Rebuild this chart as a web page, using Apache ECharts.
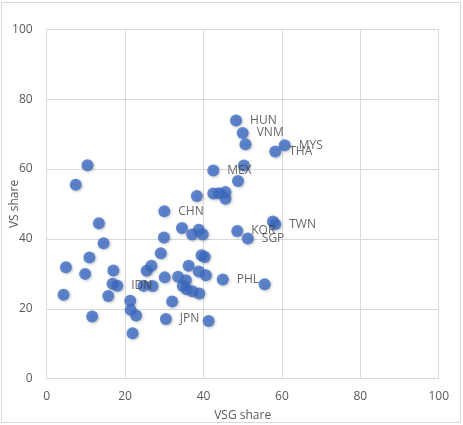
<!DOCTYPE html>
<html>
<head>
<meta charset="utf-8">
<script src="https://cdn.jsdelivr.net/npm/echarts@6/dist/echarts.min.js"></script>
<style>
  html, body { margin: 0; padding: 0; background: #fff; }
  #chart { width: 463px; height: 425px; }
</style>
</head>
<body>
<div id="chart"></div>
<script>
// VSG share (x) and VS share (y), one entry per country
const vsgShare = [
  48.3, 50.0, 50.7, 60.7, 58.3, 50.3, 42.5, 48.8, 10.4, 7.4,
  38.3, 42.5, 44.0, 45.6, 45.6, 30.0, 13.3, 14.5, 34.5, 37.1,
  38.8, 39.8, 29.9, 48.6, 51.3, 57.7, 58.3, 29.1, 39.5, 40.3,
  10.9, 4.9, 9.8, 17.0, 25.5, 26.7, 36.2, 38.8, 40.6, 30.1,
  33.5, 35.5, 44.9, 55.6, 16.8, 18.0, 24.7, 27.0, 34.7, 35.7,
  37.2, 38.9, 4.3, 15.7, 21.3, 32.0, 21.4, 22.8, 11.6, 30.4,
  41.3, 21.9
];
const vsShare = [
  73.9, 70.3, 67.1, 66.8, 65.0, 61.0, 59.6, 56.6, 61.1, 55.5,
  52.3, 53.0, 53.1, 53.4, 51.5, 47.9, 44.5, 38.8, 43.1, 41.3,
  42.6, 41.3, 40.4, 42.3, 40.1, 45.0, 44.2, 35.9, 35.3, 34.8,
  34.7, 31.9, 30.0, 31.0, 30.9, 32.3, 32.3, 30.7, 29.6, 29.0,
  29.2, 28.2, 28.4, 27.0, 27.2, 26.6, 26.6, 26.5, 26.5, 25.6,
  25.0, 24.4, 24.0, 23.7, 22.3, 22.1, 19.7, 18.1, 17.8, 17.1,
  16.5, 13.0
];
const countryLabels = [
  'HUN', 'VNM', '', 'MYS', 'THA', '', 'MEX', '', '', '',
  '', '', '', '', '', 'CHN', '', '', '', '',
  '', '', '', 'KOR', 'SGP', '', 'TWN', '', '', '',
  '', '', '', '', '', '', '', '', '', '',
  '', '', 'PHL', '', '', 'IDN', '', '', '', '',
  '', '', '', '', '', '', '', '', '', 'JPN',
  '', ''
];
const axisTicks = [0, 20, 40, 60, 80, 100];

const chart = echarts.init(document.getElementById('chart'));
const font = '"Open Sans", "Liberation Sans", sans-serif';

const points = vsgShare.map((x, i) => [x, vsShare[i], countryLabels[i]]);

chart.setOption({
  animation: false,
  textStyle: { fontFamily: font },
  graphic: [{
    type: 'rect',
    shape: { x: 1.5, y: 2.5, width: 459, height: 420 },
    style: { fill: 'none', stroke: '#d9d9d9', lineWidth: 1 },
    silent: true
  }],
  grid: {
    left: 46.7, right: 24.3, top: 29.3, bottom: 46.3,
    containLabel: false,
    outerBoundsMode: 'none'
  },
  xAxis: {
    type: 'value',
    min: axisTicks[0],
    max: axisTicks[axisTicks.length - 1],
    interval: 20,
    name: 'VSG share',
    nameLocation: 'middle',
    nameGap: 31,
    nameMoveOverlap: false,
    nameTextStyle: { color: '#595959', fontSize: 12, fontFamily: font },
    axisLine: { show: true, lineStyle: { color: '#d9d9d9' } },
    axisTick: { show: false },
    axisLabel: { color: '#595959', fontSize: 12, margin: 12, fontFamily: font },
    splitLine: { lineStyle: { color: '#d9d9d9' } }
  },
  yAxis: {
    type: 'value',
    min: axisTicks[0],
    max: axisTicks[axisTicks.length - 1],
    interval: 20,
    name: 'VS share',
    nameLocation: 'middle',
    nameGap: 26,
    nameMoveOverlap: false,
    nameTextStyle: { color: '#595959', fontSize: 12, fontFamily: font },
    axisLine: { show: false },
    axisTick: { show: false },
    axisLabel: { color: '#595959', fontSize: 12, margin: 14, fontFamily: font },
    splitLine: { lineStyle: { color: '#d9d9d9' } }
  },
  series: [{
    type: 'scatter',
    data: points,
    symbolSize: 12,
    itemStyle: {
      color: '#3d6dc6',
      shadowBlur: 3,
      shadowColor: 'rgba(0,0,0,0.3)',
      shadowOffsetX: 1,
      shadowOffsetY: 1
    },
    label: {
      show: true,
      position: 'right',
      distance: 8,
      color: '#404040',
      fontSize: 12,
      fontFamily: font,
      formatter: (p) => p.data[2]
    }
  }]
});
</script>
</body>
</html>
